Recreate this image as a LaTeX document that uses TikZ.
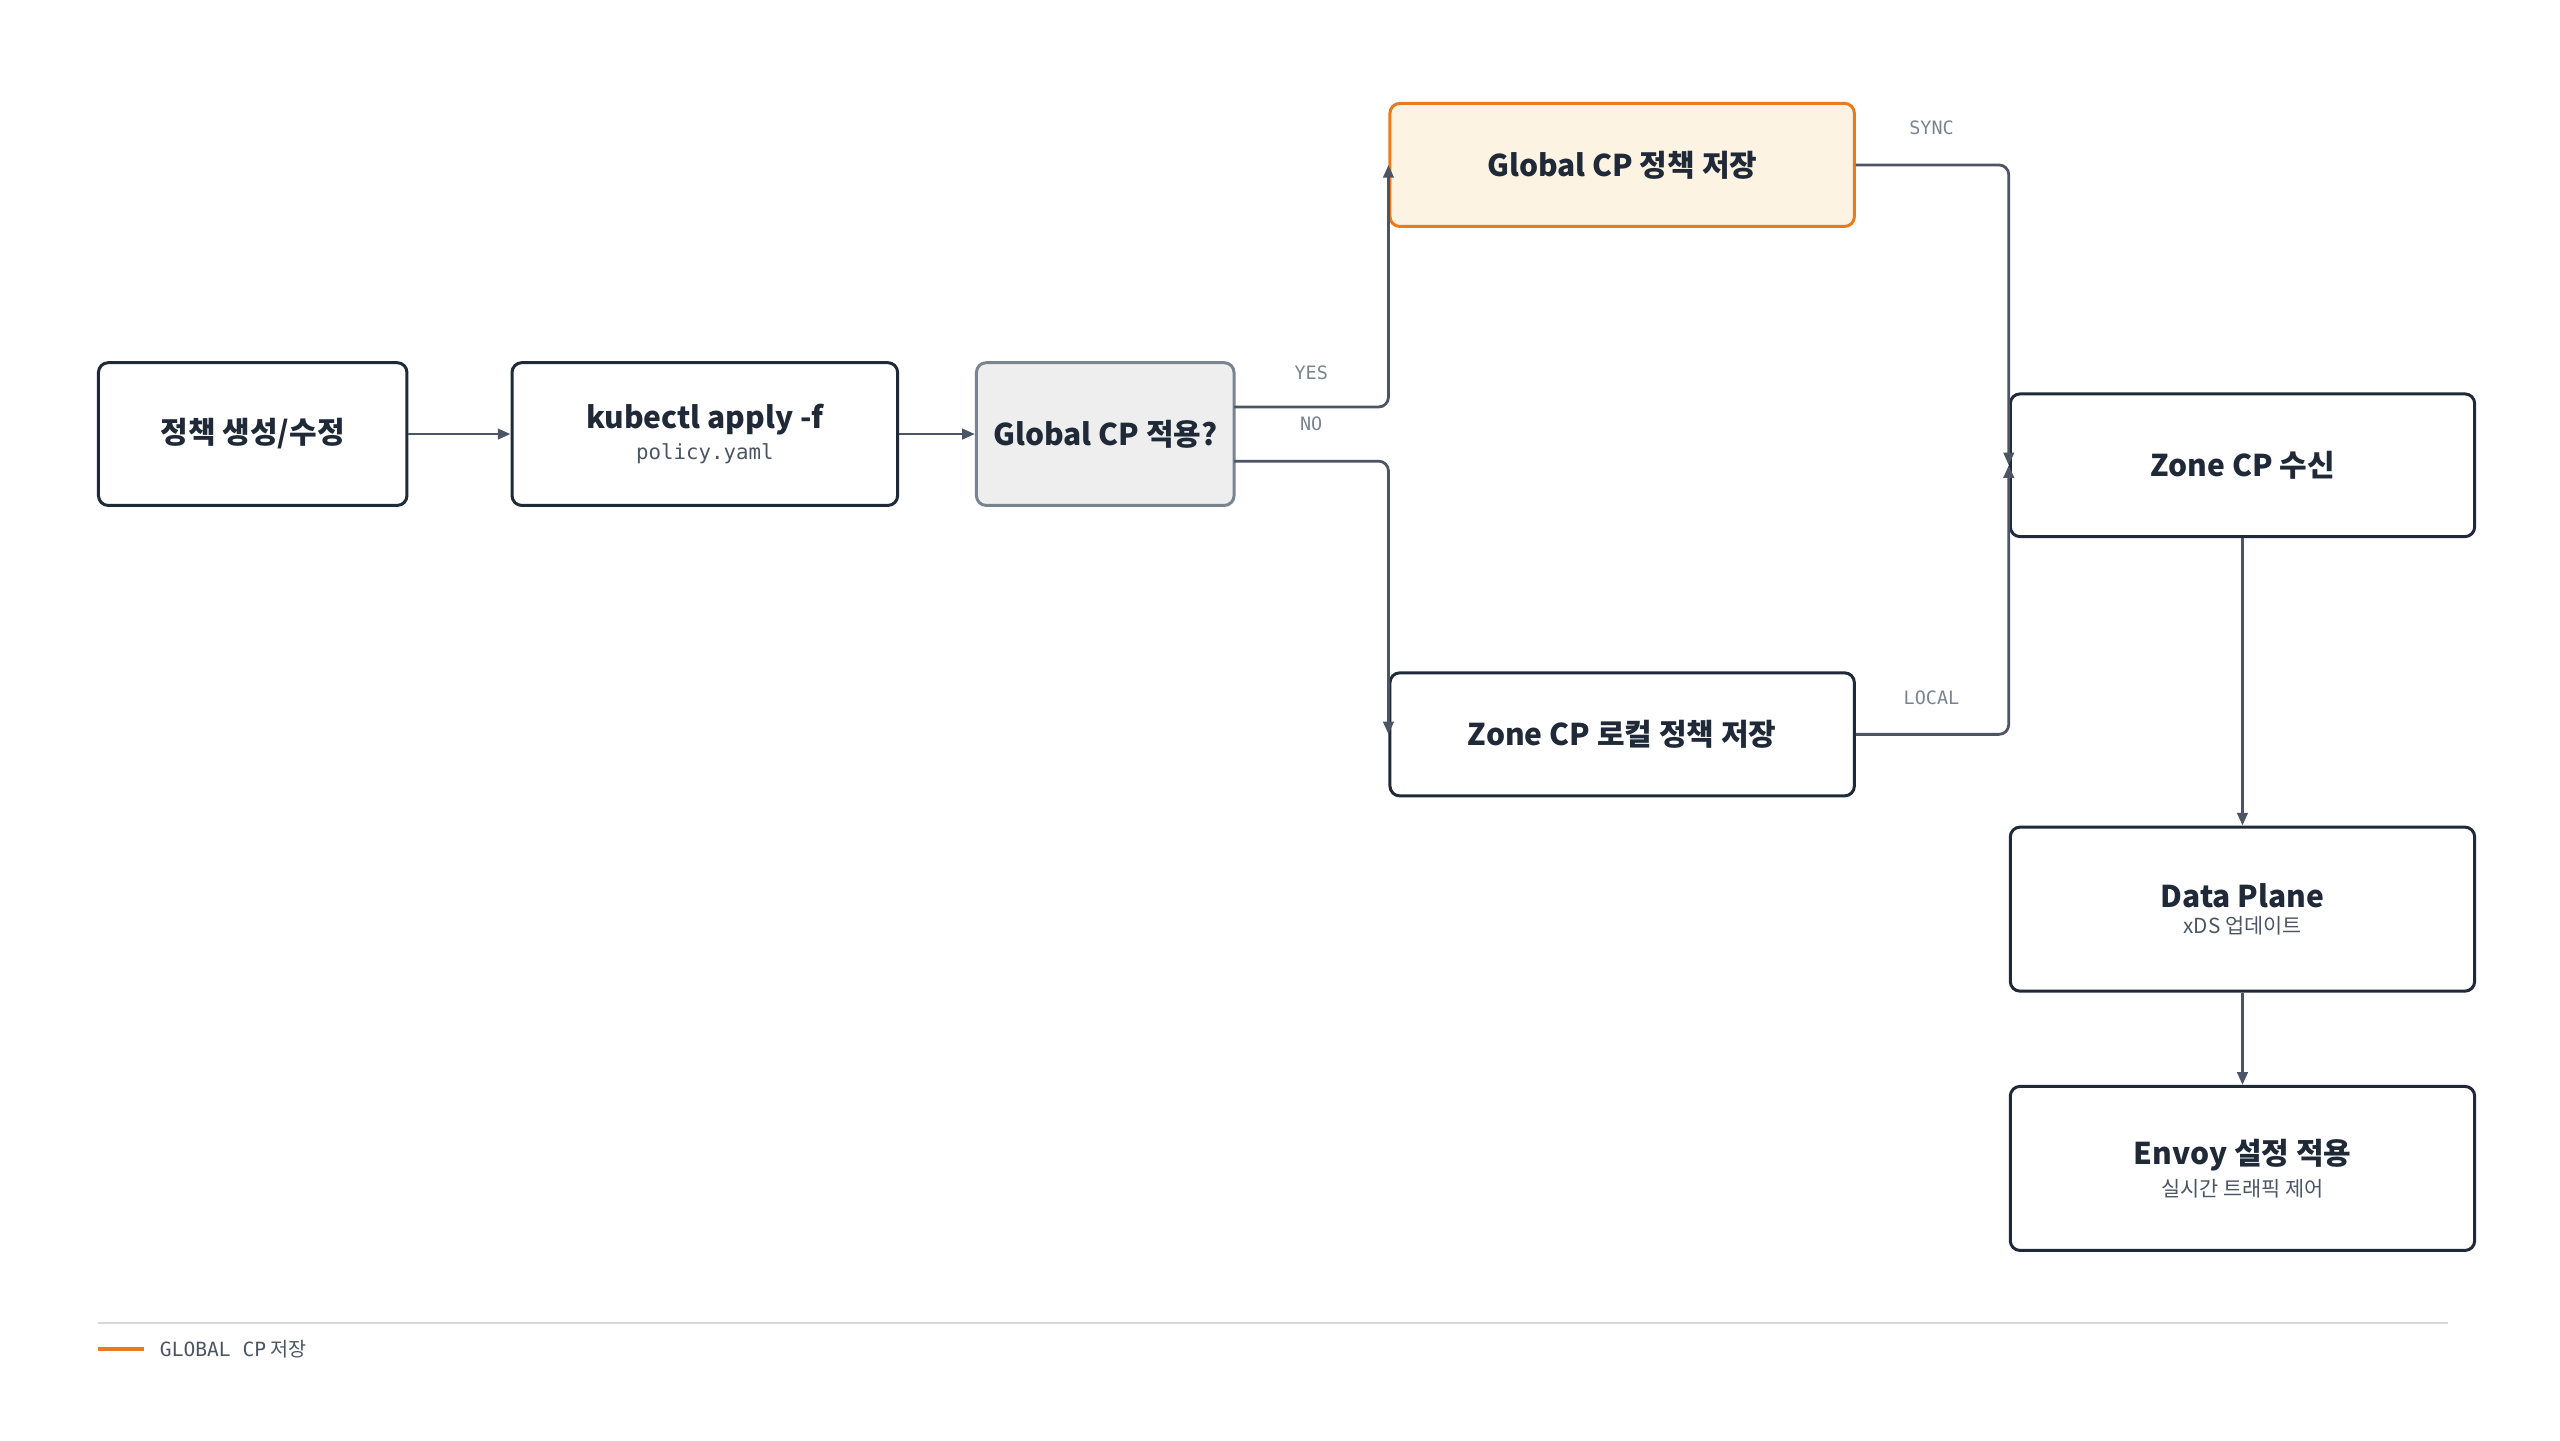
\documentclass[tikz,border=0pt]{standalone}
\usepackage{fontspec}
\setmainfont{Noto Sans CJK KR}
\newfontfamily\monofont{DejaVu Sans Mono}
\usetikzlibrary{arrows.meta}
\definecolor{ink}{HTML}{1F2937}
\definecolor{edgec}{HTML}{4B5563}
\definecolor{orangec}{HTML}{EA7A1A}
\definecolor{orangef}{HTML}{FDF3E3}
\definecolor{grayf}{HTML}{EEEEEE}
\definecolor{grayb}{HTML}{7A8490}
\begin{document}
\begin{tikzpicture}[x=0.05cm,y=-0.05cm,>={Triangle[length=11pt,width=9pt]},
		box/.style={draw=ink,line width=2.6pt,rounded corners=0.3cm,fill=white,align=center,text=ink,inner sep=0pt},
		title/.style={font=\fontsize{26}{30}\selectfont\bfseries},
		flow/.style={->,draw=edgec,line width=2.4pt,rounded corners=0.3cm},
		tag/.style={font=\fontsize{16}{18}\monofont,text=grayb}]
		\useasboundingbox (0,0) rectangle (1560,878);
		% 노드
		\node[box,minimum width=188*0.05cm,minimum height=87*0.05cm] (make) at (154,264.5)
			{{\fontsize{26}{30}\selectfont\bfseries 정책 생성/수정}};
		\node[box,minimum width=235*0.05cm,minimum height=87*0.05cm] (apply) at (429.5,264.5)
			{{\fontsize{26}{30}\selectfont\bfseries kubectl apply -f}\\[6pt]{\fontsize{18}{20}\monofont\color{edgec} policy.yaml}};
		\node[box,draw=grayb,fill=grayf,minimum width=157*0.05cm,minimum height=87*0.05cm] (ask) at (673.5,264.5)
			{{\fontsize{26}{30}\selectfont\bfseries Global CP 적용?}};
		\node[box,draw=orangec,fill=orangef,minimum width=283*0.05cm,minimum height=75*0.05cm] (gstore) at (988.5,100.5)
			{{\fontsize{26}{30}\selectfont\bfseries Global CP 정책 저장}};
		\node[box,minimum width=283*0.05cm,minimum height=75*0.05cm] (zstore) at (988.5,447.5)
			{{\fontsize{26}{30}\selectfont\bfseries Zone CP 로컬 정책 저장}};
		\node[box,minimum width=283*0.05cm,minimum height=87*0.05cm] (zone) at (1366.5,283.5)
			{{\fontsize{26}{30}\selectfont\bfseries Zone CP 수신}};
		\node[box,minimum width=283*0.05cm,minimum height=100*0.05cm] (dp) at (1366.5,554)
			{{\fontsize{26}{30}\selectfont\bfseries Data Plane}\\[6pt]{\fontsize{18}{20}\selectfont\color{edgec} xDS 업데이트}};
		\node[box,minimum width=283*0.05cm,minimum height=100*0.05cm] (envoy) at (1366.5,712)
			{{\fontsize{26}{30}\selectfont\bfseries Envoy 설정 적용}\\[6pt]{\fontsize{18}{20}\selectfont\color{edgec} 실시간 트래픽 제어}};
		% 연결
		\coordinate (yes) at (752,248);
		\coordinate (no) at (752,281);
		\draw[flow] (make) -- (apply);
		\draw[flow] (apply) -- (ask);
		\draw[flow] (yes) -| (gstore.west);
		\draw[flow] (no) -| (zstore.west);
		\draw[flow] (gstore.east) -| (zone.west);
		\draw[flow] (zstore.east) -| (zone.west);
		\draw[flow] (zone) -- (dp);
		\draw[flow] (dp) -- (envoy);
		\node[tag] (lyes) at (799,227) {YES};
		\node[tag] (lno) at (799,258) {NO};
		\node[tag] (lsync) at (1177,78) {SYNC};
		\node[tag] (llocal) at (1177,425) {LOCAL};
		% 범례
		\coordinate (rl) at (60,806);
		\coordinate (rr) at (1492,806);
		\draw[draw=grayf!80!gray,line width=1.5pt] (rl) -- (rr);
		\coordinate (ol) at (60,822);
		\coordinate (or) at (88,822);
		\draw[orangec,line width=3pt] (ol) -- (or);
		\node[anchor=west,text=edgec,font=\fontsize{17}{19}\selectfont] (legend) at (95,822) {{\monofont GLOBAL CP} 저장};
\end{tikzpicture}
\end{document}
